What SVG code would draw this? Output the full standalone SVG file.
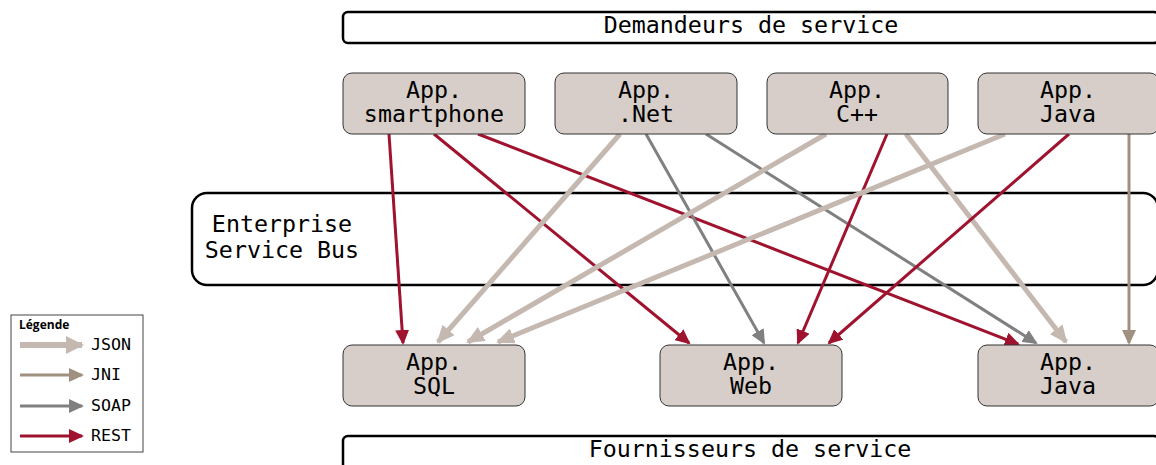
<svg xmlns="http://www.w3.org/2000/svg" width="1156" height="465" viewBox="0 0 1156 465">
<style>
.mono{font-family:"DejaVu Sans Mono","Liberation Mono",monospace;fill:#000}
.t23{font-size:23.3px}
.node rect{fill:#d7cec9;stroke:#333;stroke-width:1}
.frame{fill:#fff;stroke:#000;stroke-width:2.5}
.json{stroke:#c4b8b0;stroke-width:5;fill:none}
.jni{stroke:#a09080;stroke-width:3;fill:none}
.soap{stroke:#808080;stroke-width:3;fill:none}
.rest{stroke:#a0132e;stroke-width:3;fill:none}
</style>
<defs>
<marker id="mJson" markerUnits="userSpaceOnUse" markerWidth="20" markerHeight="16" refX="16" refY="8" orient="auto"><path d="M0,0 L18,8 L0,16 z" fill="#c4b8b0"/></marker>
<marker id="mJni" markerUnits="userSpaceOnUse" markerWidth="16" markerHeight="14" refX="13" refY="7" orient="auto"><path d="M0,0 L15,7 L0,14 z" fill="#a09080"/></marker>
<marker id="mSoap" markerUnits="userSpaceOnUse" markerWidth="16" markerHeight="14" refX="13" refY="7" orient="auto"><path d="M0,0 L15,7 L0,14 z" fill="#808080"/></marker>
<marker id="mRest" markerUnits="userSpaceOnUse" markerWidth="16" markerHeight="14" refX="13" refY="7" orient="auto"><path d="M0,0 L15,7 L0,14 z" fill="#a0132e"/></marker>
<marker id="lJson" markerUnits="userSpaceOnUse" markerWidth="20" markerHeight="18" refX="16" refY="9" orient="auto"><path d="M0,0 L18,9 L0,18 z" fill="#c4b8b0"/></marker>
</defs>

<g id="demandeurs">
<rect class="frame" x="343" y="12" width="816" height="31" rx="5"/>
<text class="mono t23" x="751" y="33" text-anchor="middle">Demandeurs de service</text>
</g>
<g id="fournisseurs">
<rect class="frame" x="343" y="436" width="816" height="40" rx="5"/>
<text class="mono t23" x="750" y="457" text-anchor="middle">Fournisseurs de service</text>
</g>
<g id="esb">
<rect class="frame" x="192" y="193" width="966" height="92" rx="15"/>
<text class="mono t23" x="282" y="232" text-anchor="middle">Enterprise</text>
<text class="mono t23" x="282" y="258" text-anchor="middle">Service Bus</text>
</g>

<g id="connectors">
<path class="rest" d="M389,134 L403,343" marker-end="url(#mRest)"/>
<path class="rest" d="M434,134 L689,343" marker-end="url(#mRest)"/>
<path class="rest" d="M478,134 L1018,344" marker-end="url(#mRest)"/>
<path class="json" d="M620,134 L438,342" marker-end="url(#mJson)"/>
<path class="soap" d="M646,134 L764,343" marker-end="url(#mSoap)"/>
<path class="soap" d="M706,134 L1036,343" marker-end="url(#mSoap)"/>
<path class="json" d="M826,134 L468,342" marker-end="url(#mJson)"/>
<path class="rest" d="M887,134 L798,343" marker-end="url(#mRest)"/>
<path class="json" d="M906,134 L1066,342" marker-end="url(#mJson)"/>
<path class="json" d="M1005,134 L498,342" marker-end="url(#mJson)"/>
<path class="rest" d="M1069,134 L829,343" marker-end="url(#mRest)"/>
<path class="jni" d="M1129,134 L1129,343" marker-end="url(#mJni)"/>
</g>

<g id="app-smartphone" class="node">
<rect x="343" y="73" width="182" height="61" rx="9"/>
<text class="mono t23" x="434" y="98" text-anchor="middle">App.</text>
<text class="mono t23" x="434" y="122" text-anchor="middle">smartphone</text>
</g>
<g id="app-net" class="node">
<rect x="555" y="73" width="182" height="61" rx="9"/>
<text class="mono t23" x="646" y="98" text-anchor="middle">App.</text>
<text class="mono t23" x="646" y="122" text-anchor="middle">.Net</text>
</g>
<g id="app-cpp" class="node">
<rect x="767" y="73" width="181" height="61" rx="9"/>
<text class="mono t23" x="857" y="98" text-anchor="middle">App.</text>
<text class="mono t23" x="857" y="122" text-anchor="middle">C++</text>
</g>
<g id="app-java-top" class="node">
<rect x="978" y="73" width="181" height="61" rx="9"/>
<text class="mono t23" x="1068" y="98" text-anchor="middle">App.</text>
<text class="mono t23" x="1068" y="122" text-anchor="middle">Java</text>
</g>

<g id="app-sql" class="node">
<rect x="343" y="345" width="182" height="61" rx="9"/>
<text class="mono t23" x="434" y="370" text-anchor="middle">App.</text>
<text class="mono t23" x="434" y="394" text-anchor="middle">SQL</text>
</g>
<g id="app-web" class="node">
<rect x="660" y="345" width="182" height="61" rx="9"/>
<text class="mono t23" x="751" y="370" text-anchor="middle">App.</text>
<text class="mono t23" x="751" y="394" text-anchor="middle">Web</text>
</g>
<g id="app-java-bottom" class="node">
<rect x="978" y="345" width="181" height="61" rx="9"/>
<text class="mono t23" x="1068" y="370" text-anchor="middle">App.</text>
<text class="mono t23" x="1068" y="394" text-anchor="middle">Java</text>
</g>

<g id="legende">
<rect x="11" y="315" width="132" height="137" fill="#fff" stroke="#444" stroke-width="1"/>
<text x="19" y="329" style="font-family:'Open Sans','Noto Sans',sans-serif;font-size:12px;font-weight:bold">Légende</text>
<path d="M20,345 L82,345" stroke="#c4b8b0" stroke-width="6" fill="none" marker-end="url(#lJson)"/>
<text class="mono" x="91" y="350" font-size="16.6">JSON</text>
<path d="M20,375 L82,375" stroke="#a09080" stroke-width="3" fill="none" marker-end="url(#mJni)"/>
<text class="mono" x="91" y="380" font-size="16.6">JNI</text>
<path d="M20,406 L82,406" stroke="#808080" stroke-width="3" fill="none" marker-end="url(#mSoap)"/>
<text class="mono" x="91" y="411" font-size="16.6">SOAP</text>
<path d="M20,436 L82,436" stroke="#a0132e" stroke-width="3" fill="none" marker-end="url(#mRest)"/>
<text class="mono" x="91" y="441" font-size="16.6">REST</text>
</g>
</svg>
